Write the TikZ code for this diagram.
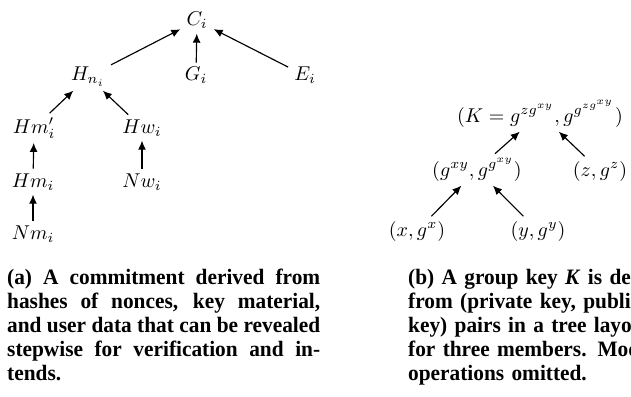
\RequirePackage{fix-cm}
\documentclass[tikz,border=0pt]{standalone}
\usepackage{fontspec}
\setmainfont{Liberation Serif}[FakeStretch=0.97]
\usetikzlibrary{arrows.meta}
% math set at 10pt design size and enlarged, so sub- and superscripts keep their optical sizes
\newcommand{\bigmath}[1]{\scalebox{2}{$#1$}}
% one justified caption line of fixed width
\newcommand{\capline}[1]{\makebox[226pt][s]{#1}}
\hbadness=10000 \hfuzz=100pt
\begin{document}
\begin{tikzpicture}[x=1pt,y=-1pt,
  term/.style={inner xsep=6pt, inner ysep=4.5pt, anchor=base, font=\fontsize{10}{12}\selectfont},
  link/.style={line width=1.15pt, -{Latex[length=9pt,width=8pt]}},
  caption/.style={inner sep=0pt, anchor=base west,
    font=\fontsize{22}{24}\selectfont\bfseries}]
\useasboundingbox (0,0) rectangle (631,396);

% (a) commitment tree
\node[term] (C)   at (197,26)  {\bigmath{C_i}};
\node[term] (Hn)  at (88,81)   {\bigmath{H_{n_i}}};
\node[term] (G)   at (196,81)  {\bigmath{G_i}};
\node[term] (E)   at (305,81)  {\bigmath{E_i}};
\node[term] (Hmp) at (34,133)  {\bigmath{Hm'_i}};
\node[term] (Hw)  at (142,133) {\bigmath{Hw_i}};
\node[term] (Hm)  at (33,187)  {\bigmath{Hm_i}};
\node[term] (Nw)  at (142,187) {\bigmath{Nw_i}};
\node[term] (Nm)  at (33,239)  {\bigmath{Nm_i}};

\draw[link] (Hn) -- (C);
\draw[link] (G) -- (C);
\draw[link] (E) -- (C);
\draw[link] (Hmp) -- (Hn);
\draw[link] (Hw) -- (Hn);
\draw[link] (Hm) -- (Hmp);
\draw[link] (Nm) -- (Hm);
\draw[link] (Nw) -- (Hw);

% (b) group key tree
\node[term] (K)   at (540,122) {\bigmath{(K = g^{zg^{xy}}, g^{g^{zg^{xy}}})}};
\node[term] (gxy) at (477,176) {\bigmath{(g^{xy}, g^{g^{xy}})}};
\node[term] (z)   at (600,176) {\bigmath{(z, g^{z})}};
\node[term] (x)   at (417,236) {\bigmath{(x, g^{x})}};
\node[term] (y)   at (538,236) {\bigmath{(y, g^{y})}};

\draw[link] (gxy) -- (K);
\draw[link] (z) -- (K);
\draw[link] (x) -- (gxy);
\draw[link] (y) -- (gxy);

% captions
\node[caption, text width=313pt, align=justify] (capa) at (7,284)
  {(a) A commitment derived from\linebreak
   hashes of nonces, key material,\linebreak
   and user data that can be revealed\linebreak
   stepwise for verification and in-\linebreak
   tends.};
\node[caption, text width=226pt, align=left] (capb) at (408,284)
  {\capline{(b) A group key \textit{K} is derived}\\
   \capline{from (private key, public}\\
   \capline{key) pairs in a tree layout}\\
   \capline{for three members. Modulo}\\
   operations omitted.};
\end{tikzpicture}
\end{document}
